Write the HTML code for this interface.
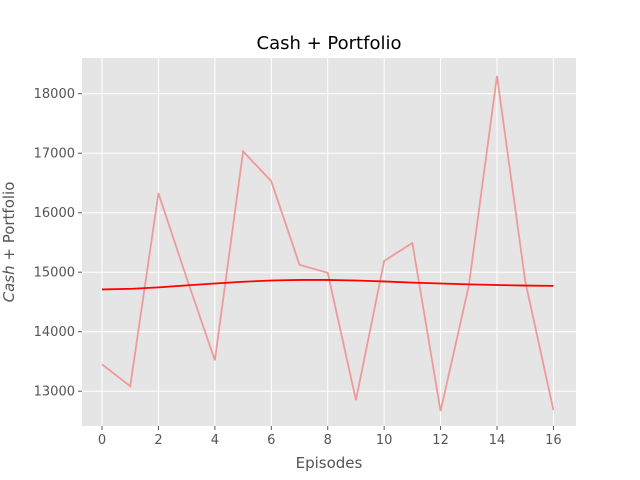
<!DOCTYPE html>
<html><head><meta charset="utf-8"><style>
body{margin:0;background:#fff;}
svg{display:block;font-family:"DejaVu Sans","Liberation Sans",sans-serif;}
</style></head><body>
<svg id="chart" width="640" height="480">
<rect width="640" height="480" fill="#fff"/>
<rect x="82" y="58" width="494" height="368" fill="#e5e5e5"/>
<g id="grid"></g><g id="ticks"></g><g id="series"></g>
<text x="329" y="49" text-anchor="middle" font-size="18" fill="#000">Cash + Portfolio</text>
<text x="329" y="468" text-anchor="middle" font-size="15" fill="#555">Episodes</text>
<text transform="translate(14,242) rotate(-90)" text-anchor="middle" font-size="15" fill="#555"><tspan font-style="italic">Cash</tspan> + Portfolio</text>
</svg>
<script>
const episodes=[0,1,2,3,4,5,6,7,8,9,10,11,12,13,14,15,16];
const rawValues=[13451,13084,16328,14900,13518,17030,16528,15124,14990,12850,15190,15490,12666,14770,18300,14850,12680];
const smoothValues=[14710,14720,14745,14778,14810,14840,14860,14870,14870,14860,14845,14825,14810,14795,14785,14775,14770];
const xTicks=[0,2,4,6,8,10,12,14,16];
const yTicks=[13000,14000,15000,16000,17000,18000];
const NS="http://www.w3.org/2000/svg";
const L=82,R=576,T=58,B=426,xmin=-0.71,xmax=16.8,ymin=12415,ymax=18600;
const sx=v=>L+(v-xmin)/(xmax-xmin)*(R-L);
const sy=v=>B-(v-ymin)/(ymax-ymin)*(B-T);
function mk(tag,attrs,parent){const e=document.createElementNS(NS,tag);for(const k in attrs)e.setAttribute(k,attrs[k]);document.getElementById(parent).appendChild(e);return e;}
xTicks.forEach(t=>{
 const g=mk('line',{x1:sx(t),x2:sx(t),y1:T,y2:B,stroke:'#fff','stroke-width':1},'grid');
 
 
 const tk=mk('line',{x1:sx(t),x2:sx(t),y1:B,y2:B+4,stroke:'#555'},'ticks');
 
 
 const tx=mk('text',{x:sx(t),y:B+18,'text-anchor':'middle','font-size':13,fill:'#555'},'ticks');
 tx.textContent=t;
 
 
});
yTicks.forEach(t=>{
 const g=mk('line',{x1:L,x2:R,y1:sy(t),y2:sy(t),stroke:'#fff','stroke-width':1},'grid');
 
 
 const tk=mk('line',{x1:L-4,x2:L,y1:sy(t),y2:sy(t),stroke:'#555'},'ticks');
 
 
 const tx=mk('text',{x:L-7,y:sy(t)+4.5,'text-anchor':'end','font-size':13,fill:'#555'},'ticks');
 tx.textContent=t;
 
 
});
const p1=mk('polyline',{points:episodes.map((e,i)=>sx(e)+','+sy(rawValues[i])).join(' '),fill:'none',stroke:'#ef9a9a','stroke-width':1.8},'series');


const p2=mk('polyline',{points:episodes.map((e,i)=>sx(e)+','+sy(smoothValues[i])).join(' '),fill:'none',stroke:'#ff0000','stroke-width':1.8},'series');


</script>
</body></html>
